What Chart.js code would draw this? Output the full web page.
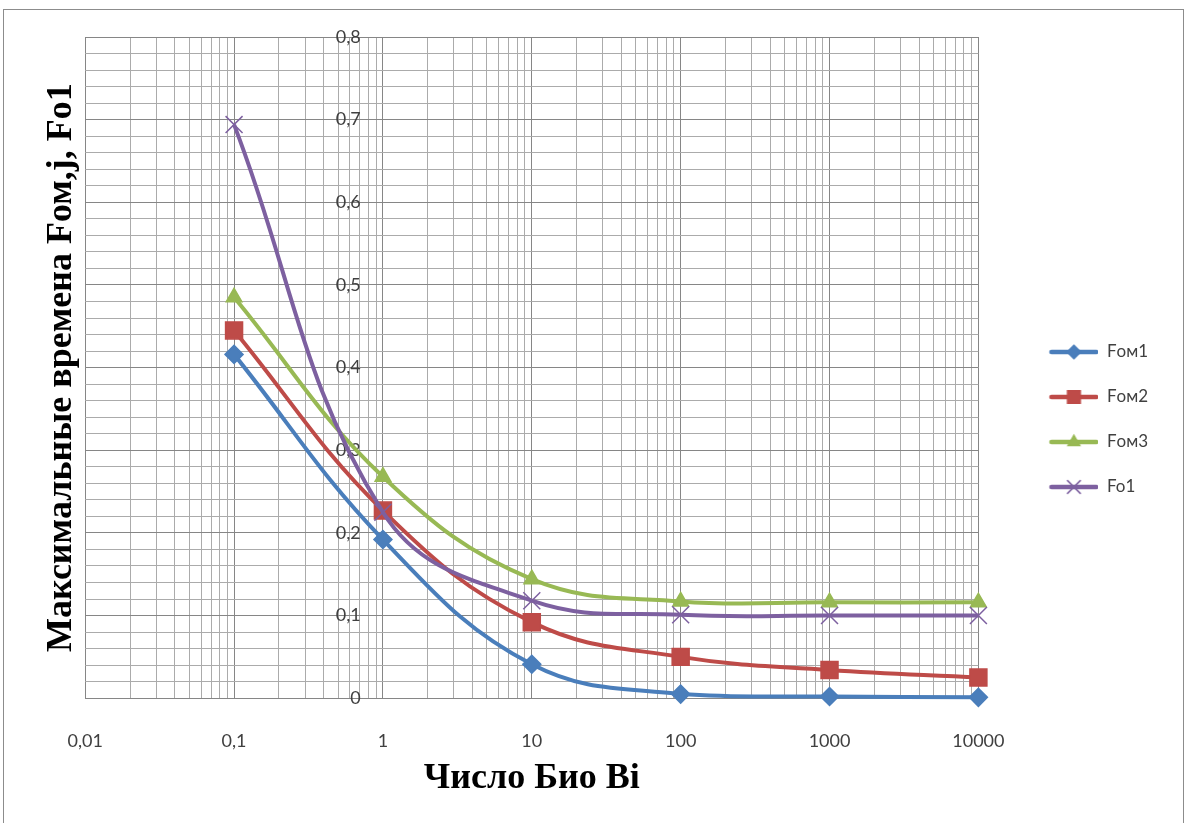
<!DOCTYPE html>
<html>
<head>
<meta charset="utf-8">
<script src="https://cdn.jsdelivr.net/npm/chart.js@4/dist/chart.umd.min.js"></script>
<style>
  body { margin: 0; background: #fff; overflow: hidden; }
  #frame { position: absolute; left: 3px; top: 9px; width: 1181px; height: 840px; border: 1px solid #8c8c8c; box-sizing: border-box; }
  #wrap { position: absolute; left: 0; top: 0; width: 1186px; height: 823px; }
</style>
</head>
<body>
<div id="frame"></div>
<div id="wrap"><canvas id="chart"></canvas></div>
<script>
// Biot number values (x) and the four curves
const biot = [0.1, 1, 10, 100, 1000, 10000];
const fom1 = [0.416, 0.192, 0.041, 0.005, 0.002, 0.001];
const fom2 = [0.445, 0.227, 0.092, 0.050, 0.034, 0.025];
const fom3 = [0.485, 0.268, 0.144, 0.117, 0.116, 0.116];
const fo1 = [0.694, 0.225, 0.118, 0.101, 0.100, 0.100];

const seriesNames = ['Fом1', 'Fом2', 'Fом3', 'Fo1'];
const xTickValues = [0.01, 0.1, 1, 10, 100, 1000, 10000];
const xTickLabels = ['0,01', '0,1', '1', '10', '100', '1000', '10000'];
const yTickLabels = ['0', '0,1', '0,2', '0,3', '0,4', '0,5', '0,6', '0,7', '0,8'];

const colors = ['#4a7ebb', '#be4b48', '#98b954', '#7d60a0'];
const styles = ['rectRot', 'rect', 'triangle', 'crossRot'];
const radii = [9, 12, 9, 12];

// log grid: 1..9 in every decade
const xGrid = [];
for (let i = 0; i < xTickValues.length - 1; i++) {
  for (let k = 1; k < 10; k++) xGrid.push(xTickValues[i] * k);
}
xGrid.push(xTickValues[xTickValues.length - 1]);

const isMajorX = v => xTickValues.some(t => Math.abs(t - v) / t < 1e-9);
const isMajorY = v => Math.abs(v * 10 - Math.round(v * 10)) < 1e-6;

function toPoints(ys) {
  return biot.map((x, i) => ({ x: x, y: ys[i] }));
}

// legend icon: line with the marker in the middle
function legendIcon(i) {
  const c = document.createElement('canvas');
  c.width = 92; c.height = 24;
  const g = c.getContext('2d');
  g.strokeStyle = colors[i];
  g.lineWidth = 4.5;
  g.lineCap = 'round';
  g.beginPath(); g.moveTo(45, 12); g.lineTo(90, 12); g.stroke();
  g.fillStyle = colors[i];
  g.lineWidth = 1.5;
  Chart.helpers.drawPoint(g, { pointStyle: styles[i], radius: radii[i] * 0.75, rotation: 0, borderWidth: 1.5 }, 67.5, 12);
  return c;
}

const allSeries = [fom1, fom2, fom3, fo1];
const datasets = allSeries.map((ys, i) => ({
  label: seriesNames[i],
  data: toPoints(ys),
  borderColor: colors[i],
  backgroundColor: colors[i],
  borderWidth: 4,
  pointStyle: styles[i],
  pointRadius: radii[i],
  pointBackgroundColor: colors[i],
  pointBorderColor: colors[i],
  pointBorderWidth: 1.5,
  tension: 0.4,
  clip: false,
  order: 3 - i
}));

new Chart(document.getElementById('chart'), {
  type: 'line',
  data: { datasets: datasets },
  options: {
    responsive: true,
    maintainAspectRatio: false,
    animation: false,
    layout: { padding: { left: 38, right: 28, top: 37, bottom: 21 } },
    plugins: {
      tooltip: { enabled: false },
      legend: {
        position: 'right',
        labels: {
          usePointStyle: true,
          pointStyleWidth: 92,
          padding: 28,
          color: '#404040',
          font: { family: 'Lato', size: 17 },
          generateLabels: chart => chart.data.datasets.map((ds, i) => ({
            text: ds.label,
            pointStyle: legendIcon(i),
            fontColor: '#404040',
            fillStyle: colors[i],
            strokeStyle: colors[i],
            lineWidth: 0,
            hidden: false,
            datasetIndex: i
          }))
        }
      }
    },
    scales: {
      x: {
        type: 'logarithmic',
        min: 0.01,
        max: 10000,
        afterBuildTicks: scale => { scale.ticks = xGrid.map(v => ({ value: v })); },
        ticks: {
          autoSkip: false,
          maxRotation: 0,
          padding: 32,
          color: '#404040',
          font: { family: 'Lato', size: 18 },
          callback: v => {
            const idx = xTickValues.findIndex(t => Math.abs(t - v) / t < 1e-9);
            return idx >= 0 ? xTickLabels[idx] : '';
          }
        },
        grid: {
          drawTicks: false,
          color: ctx => isMajorX(ctx.tick.value) ? '#868686' : '#ababab'
        },
        border: { color: '#868686' },
        title: {
          display: true,
          text: 'Число Био Bi',
          color: '#000',
          font: { family: 'Liberation Serif', size: 36, weight: 'bold' },
          padding: { top: -27, bottom: 2 }
        }
      },
      y: {
        type: 'linear',
        // axis crosses the x axis just left of Bi = 1, labels sit there
        position: { x: 0.71 },
        min: 0,
        max: 0.8,
        ticks: {
          stepSize: 0.02,
          autoSkip: false,
          maxTicksLimit: 100,
          color: '#404040',
          font: { family: 'Lato', size: 18 },
          callback: v => isMajorY(v) ? yTickLabels[Math.round(v * 10)] : ''
        },
        grid: {
          drawTicks: false,
          color: ctx => isMajorY(ctx.tick.value) ? '#868686' : '#ababab'
        },
        border: { display: false }
      },
      yTitle: {
        type: 'linear',
        position: 'left',
        ticks: { display: false },
        grid: { display: false, drawTicks: false },
        border: { display: false },
        title: {
          display: true,
          text: 'Максимальные времена Fом,j, Fo1',
          color: '#000',
          font: { family: 'Liberation Serif', size: 36, weight: 'bold' },
          padding: { top: 2, bottom: 2 }
        }
      }
    }
  }
});
</script>
</body>
</html>
